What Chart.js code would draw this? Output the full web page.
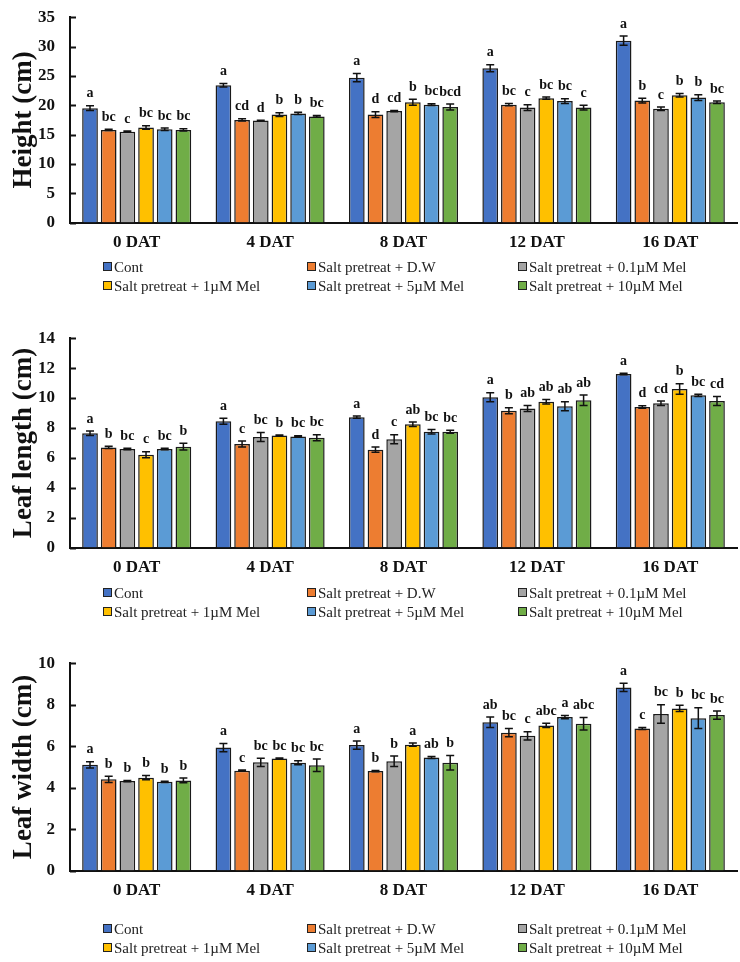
<!DOCTYPE html>
<html>
<head>
<meta charset="utf-8">
<script src="https://cdn.jsdelivr.net/npm/chart.js@4.4.1/dist/chart.umd.min.js"></script>
<style>
  body { margin: 0; background: #fff; }
  #page { position: relative; width: 740px; height: 962px; overflow: hidden; }
  .panel { position: absolute; left: 0; width: 740px; }
  .legend { position: absolute; left: 0; width: 740px; font-family: "Liberation Serif", "Times New Roman", serif; font-size: 15px; color: #222; }
  .item { position: absolute; white-space: nowrap; line-height: 18px; }
  .box { display: inline-block; width: 7px; height: 7px; border: 1px solid #222; margin-right: 2px; vertical-align: 1px; }
</style>
</head>
<body>
<div id="page">
  <div class="panel" style="top:-8px;height:281px"><canvas id="chartHeight"></canvas></div>
  <div class="legend" id="legendHeight" style="top:258px"></div>
  <div class="panel" style="top:313px;height:285px"><canvas id="chartLength"></canvas></div>
  <div class="legend" id="legendLength" style="top:584px"></div>
  <div class="panel" style="top:638px;height:283px"><canvas id="chartWidth"></canvas></div>
  <div class="legend" id="legendWidth" style="top:920px"></div>
</div>
<script>
// categorias y tratamientos
const categories = ['0 DAT', '4 DAT', '8 DAT', '12 DAT', '16 DAT'];
const seriesNames = ['Cont', 'Salt pretreat + D.W', 'Salt pretreat + 0.1\u00b5M Mel',
                     'Salt pretreat + 1\u00b5M Mel', 'Salt pretreat + 5\u00b5M Mel', 'Salt pretreat + 10\u00b5M Mel'];
const seriesColors = ['#4472C4', '#ED7D31', '#A5A5A5', '#FFC000', '#5B9BD5', '#70AD47'];

// Height (cm) - una fila por tratamiento
const heightMean = [
  [19.5, 23.4, 24.7, 26.3, 31.0],
  [15.8, 17.5, 18.4, 20.1, 20.8],
  [15.5, 17.4, 19.0, 19.6, 19.4],
  [16.2, 18.4, 20.5, 21.2, 21.7],
  [15.9, 18.6, 20.1, 20.7, 21.3],
  [15.8, 18.1, 19.7, 19.6, 20.5]
];
const heightErr = [
  [0.4, 0.3, 0.7, 0.6, 0.8],
  [0.1, 0.2, 0.5, 0.2, 0.4],
  [0.1, 0.05, 0.1, 0.5, 0.3],
  [0.3, 0.3, 0.5, 0.2, 0.3],
  [0.2, 0.2, 0.15, 0.4, 0.5],
  [0.2, 0.15, 0.5, 0.4, 0.2]
];
const heightLetters = [
  ['a', 'a', 'a', 'a', 'a'],
  ['bc', 'cd', 'd', 'bc', 'b'],
  ['c', 'd', 'cd', 'c', 'c'],
  ['bc', 'b', 'b', 'bc', 'b'],
  ['bc', 'b', 'bc', 'bc', 'b'],
  ['bc', 'bc', 'bcd', 'c', 'bc']
];

// Leaf length (cm)
const lengthMean = [
  [7.65, 8.45, 8.72, 10.05, 11.6],
  [6.7, 6.92, 6.55, 9.15, 9.4],
  [6.6, 7.4, 7.25, 9.3, 9.65],
  [6.2, 7.5, 8.25, 9.75, 10.6],
  [6.6, 7.42, 7.75, 9.45, 10.18],
  [6.75, 7.35, 7.75, 9.85, 9.8]
];
const lengthErr = [
  [0.15, 0.2, 0.08, 0.3, 0.05],
  [0.08, 0.2, 0.18, 0.2, 0.08],
  [0.05, 0.3, 0.3, 0.2, 0.15],
  [0.2, 0.03, 0.15, 0.15, 0.35],
  [0.05, 0.05, 0.15, 0.3, 0.08],
  [0.22, 0.2, 0.1, 0.35, 0.3]
];
const lengthLetters = [
  ['a', 'a', 'a', 'a', 'a'],
  ['b', 'c', 'd', 'b', 'd'],
  ['bc', 'bc', 'c', 'ab', 'cd'],
  ['c', 'b', 'ab', 'ab', 'b'],
  ['bc', 'bc', 'bc', 'ab', 'bc'],
  ['b', 'bc', 'bc', 'ab', 'cd']
];

// Leaf width (cm)
const widthMean = [
  [5.1, 5.93, 6.05, 7.15, 8.83],
  [4.4, 4.82, 4.8, 6.65, 6.85],
  [4.32, 5.22, 5.27, 6.5, 7.55],
  [4.48, 5.4, 6.07, 7.0, 7.82],
  [4.28, 5.2, 5.45, 7.4, 7.35],
  [4.35, 5.08, 5.2, 7.08, 7.5]
];
const widthErr = [
  [0.15, 0.2, 0.2, 0.25, 0.2],
  [0.15, 0.03, 0.03, 0.2, 0.05],
  [0.03, 0.2, 0.25, 0.2, 0.45],
  [0.1, 0.03, 0.08, 0.1, 0.15],
  [0.03, 0.1, 0.05, 0.08, 0.5],
  [0.12, 0.3, 0.35, 0.3, 0.2]
];
const widthLetters = [
  ['a', 'a', 'a', 'ab', 'a'],
  ['b', 'c', 'b', 'bc', 'c'],
  ['b', 'bc', 'b', 'c', 'bc'],
  ['b', 'bc', 'a', 'abc', 'b'],
  ['b', 'bc', 'ab', 'a', 'bc'],
  ['b', 'bc', 'b', 'abc', 'bc']
];

const serif = '"Liberation Serif", "Times New Roman", serif';

// barras de error, letras y marcas hacia adentro
const extrasPlugin = {
  id: 'extras',
  afterDatasetsDraw(chart) {
    const ctx = chart.ctx;
    const y = chart.scales.y;
    const area = chart.chartArea;
    ctx.save();
    ctx.strokeStyle = '#111';
    ctx.lineWidth = 2;
    y.ticks.forEach(t => {
      const py = Math.round(y.getPixelForValue(t.value)) + 0.5;
      ctx.beginPath();
      ctx.moveTo(area.left, py);
      ctx.lineTo(area.left + 6, py);
      ctx.stroke();
    });
    chart.data.datasets.forEach((ds, i) => {
      const meta = chart.getDatasetMeta(i);
      meta.data.forEach((bar, j) => {
        const v = ds.data[j];
        const e = ds.err[j];
        const top = y.getPixelForValue(v + e);
        const bot = y.getPixelForValue(v - e);
        ctx.lineWidth = 1.5;
        ctx.beginPath();
        ctx.moveTo(bar.x, top); ctx.lineTo(bar.x, bot);
        ctx.moveTo(bar.x - 4, top); ctx.lineTo(bar.x + 4, top);
        ctx.moveTo(bar.x - 4, bot); ctx.lineTo(bar.x + 4, bot);
        ctx.stroke();
        ctx.fillStyle = '#111';
        ctx.font = 'bold 14px ' + serif;
        ctx.textAlign = 'center';
        ctx.textBaseline = 'bottom';
        ctx.fillText(ds.letters[j], bar.x, Math.min(top, bar.y) - 5);
      });
    });
    ctx.restore();
  }
};

function makeChart(id, title, means, errs, letters, maxY, step) {
  const datasets = seriesNames.map((name, i) => ({
    label: name,
    data: means[i],
    err: errs[i],
    letters: letters[i],
    backgroundColor: seriesColors[i],
    borderColor: '#1a1a1a',
    borderWidth: 1.5,
    barPercentage: 0.84,
    categoryPercentage: 0.84
  }));
  return new Chart(document.getElementById(id), {
    type: 'bar',
    data: { labels: categories, datasets: datasets },
    options: {
      responsive: true,
      maintainAspectRatio: false,
      animation: false,
      layout: { padding: { top: 9, right: 3, bottom: 10, left: 0 } },
      plugins: { legend: { display: false }, tooltip: { enabled: false } },
      scales: {
        x: {
          grid: { display: false, drawTicks: false },
          border: { color: '#111', width: 2 },
          ticks: { color: '#111', padding: 10, font: { family: serif, size: 17, weight: 'bold' } }
        },
        y: {
          min: 0, max: maxY,
          grid: { display: false, drawTicks: false },
          border: { color: '#111', width: 2 },
          ticks: { stepSize: step, color: '#111', padding: 15, font: { family: serif, size: 17, weight: 'bold' } },
          title: { display: true, text: title, color: '#111', padding: { top: 8, bottom: 0 },
                   font: { family: serif, size: 27, weight: 'bold' } },
          afterFit(scale) { scale.width = 70; }
        }
      }
    },
    plugins: [extrasPlugin]
  });
}

function makeLegend(id) {
  const cols = [103, 307, 518];
  const el = document.getElementById(id);
  seriesNames.forEach((name, i) => {
    const d = document.createElement('div');
    d.className = 'item';
    d.style.left = cols[i % 3] + 'px';
    d.style.top = (Math.floor(i / 3) * 19) + 'px';
    d.innerHTML = '<span class="box" style="background:' + seriesColors[i] + '"></span>' + name;
    el.appendChild(d);
  });
}

makeChart('chartHeight', 'Height (cm)', heightMean, heightErr, heightLetters, 35, 5);
makeChart('chartLength', 'Leaf length (cm)', lengthMean, lengthErr, lengthLetters, 14, 2);
makeChart('chartWidth', 'Leaf width (cm)', widthMean, widthErr, widthLetters, 10, 2);
makeLegend('legendHeight');
makeLegend('legendLength');
makeLegend('legendWidth');
</script>
</body>
</html>
